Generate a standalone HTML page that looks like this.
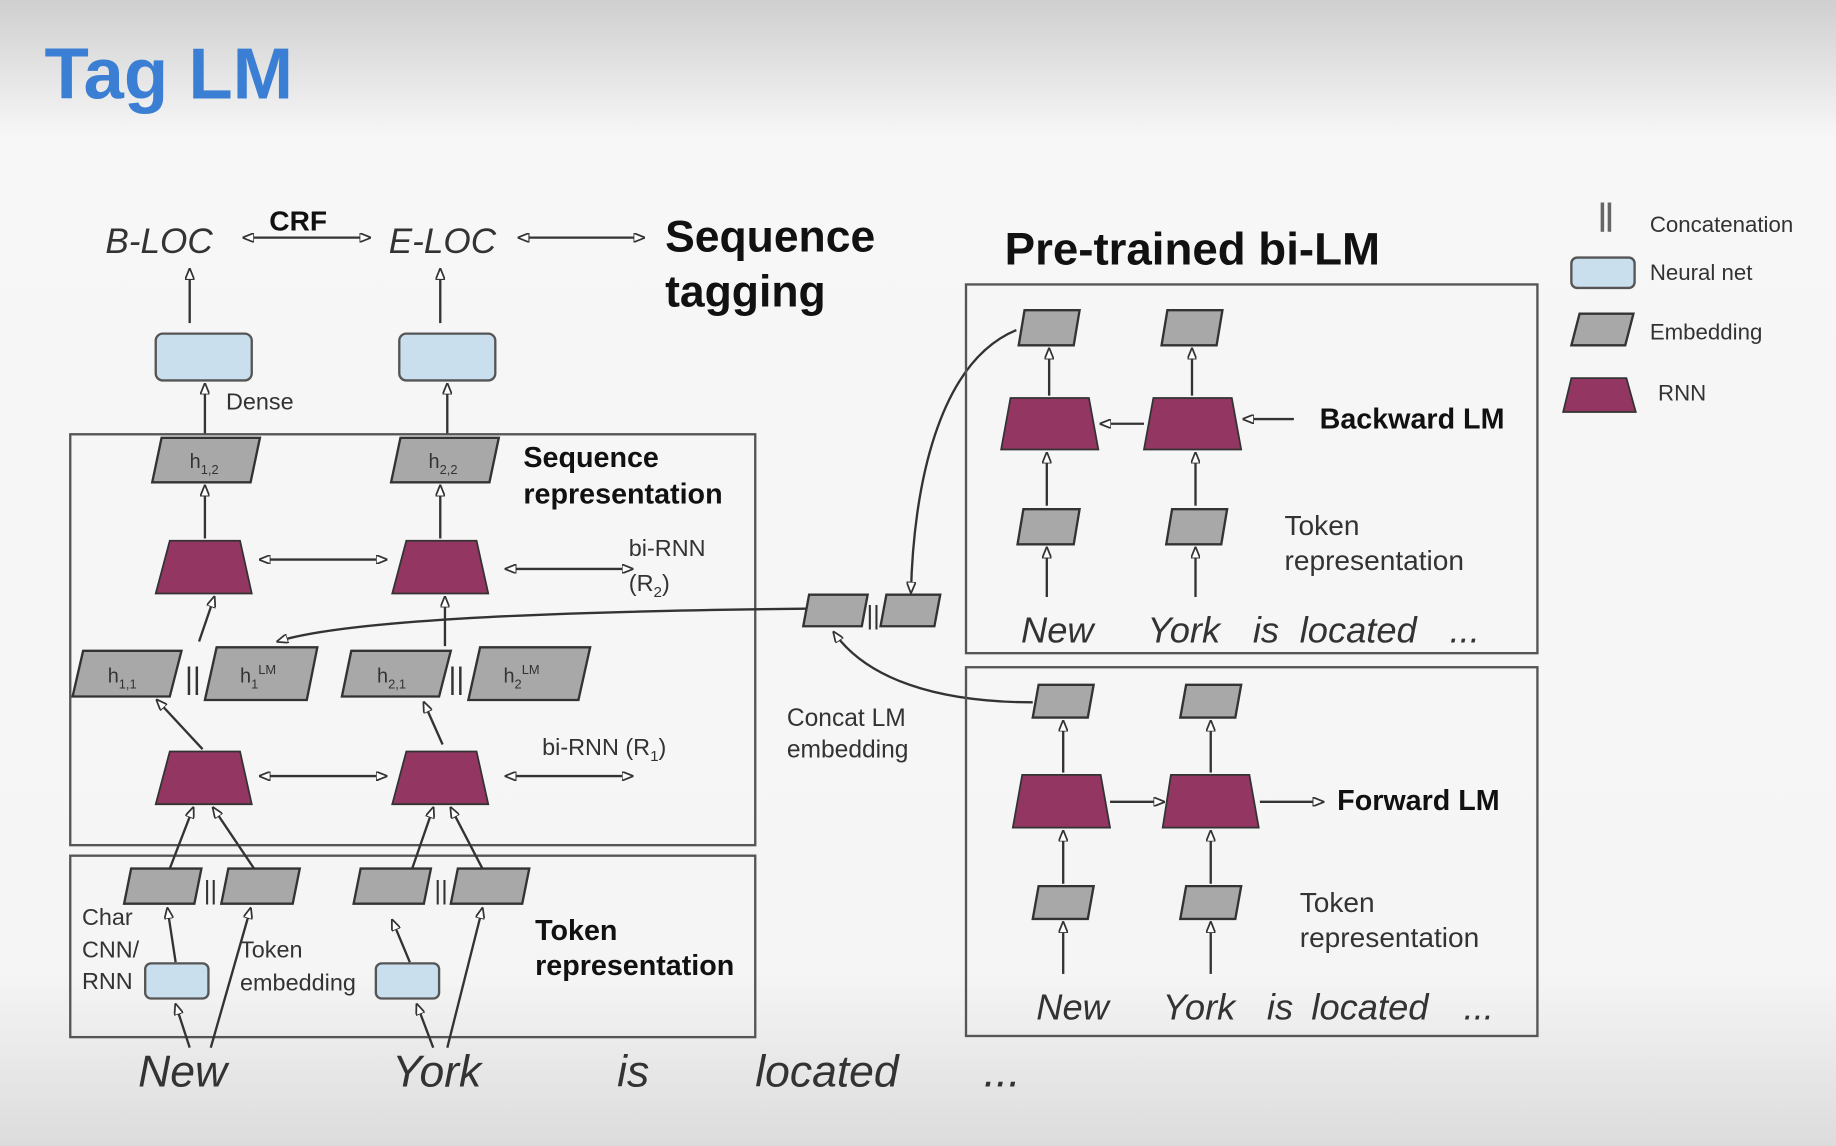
<!DOCTYPE html>
<html><head><meta charset="utf-8"><style>
html,body{margin:0;padding:0;width:1836px;height:1146px;overflow:hidden;background:#fff}
svg{display:block}
text{font-family:"Liberation Sans",sans-serif;fill:#333}
.i{font-style:italic}
.b{font-weight:bold;fill:#111}
.e{fill:#a8a8a8;stroke:#333;stroke-width:2}
.r{fill:#933662;stroke:#333;stroke-width:1.5}
.n{fill:#c9dfee;stroke:#555;stroke-width:2}
.bx{fill:none;stroke:#555;stroke-width:2}
.a{stroke:#333;stroke-width:2;fill:none;marker-end:url(#m)}
.aa{stroke:#333;stroke-width:2;fill:none;marker-end:url(#m);marker-start:url(#ms)}
</style></head><body>
<svg width="1836" height="1146" viewBox="0 0 1568 979" preserveAspectRatio="none">
<defs>
<linearGradient id="bg" x1="0" y1="0" x2="0" y2="1">
<stop offset="0" stop-color="#cfcfcf"/><stop offset="0.12" stop-color="#f7f7f7"/><stop offset="0.85" stop-color="#f5f5f5"/><stop offset="1" stop-color="#dcdcdc"/>
</linearGradient>
<marker id="m" markerWidth="10" markerHeight="8" refX="9" refY="4" orient="auto" markerUnits="userSpaceOnUse"><path d="M0,0 L10,4 L0,8 Z" fill="#fff" stroke="#333" stroke-width="1.5"/></marker>
<marker id="ms" markerWidth="10" markerHeight="8" refX="1" refY="4" orient="auto" markerUnits="userSpaceOnUse"><path d="M10,0 L0,4 L10,8 Z" fill="#fff" stroke="#333" stroke-width="1.5"/></marker>
</defs>
<rect width="1568" height="979" fill="url(#bg)"/>
<text x="38" y="84" style="font-size:62px;font-weight:bold;fill:#3b7fd4">Tag LM</text>

<!-- top labels -->
<text x="90" y="216" class="i" font-size="30">B-LOC</text>
<text x="332" y="216" class="i" font-size="30">E-LOC</text>
<text x="230" y="197" class="b" font-size="24">CRF</text>
<line x1="208" y1="203" x2="316" y2="203" class="aa"/>
<line x1="443" y1="203" x2="550" y2="203" class="aa"/>
<text x="568" y="215" class="b" font-size="38">Sequence</text>
<text x="568" y="262" class="b" font-size="38">tagging</text>
<line x1="162" y1="276" x2="162" y2="230" class="a"/>
<line x1="376" y1="276" x2="376" y2="230" class="a"/>
<rect x="133" y="285" width="82" height="40" rx="6" class="n"/>
<rect x="341" y="285" width="82" height="40" rx="6" class="n"/>
<text x="193" y="350" font-size="20">Dense</text>
<line x1="175" y1="372" x2="175" y2="328" class="a"/>
<line x1="382" y1="372" x2="382" y2="328" class="a"/>

<rect x="60" y="371" width="585" height="351" class="bx"/>
<rect x="60" y="731" width="585" height="155" class="bx"/>

<polygon points="138,374 222,374 214,412 130,412" class="e"/>
<polygon points="342,374 426,374 418,412 334,412" class="e"/>
<text x="162" y="400" font-size="17">h<tspan font-size="11" dy="5">1,2</tspan></text>
<text x="366" y="400" font-size="17">h<tspan font-size="11" dy="5">2,2</tspan></text>
<text x="447" y="399" class="b" font-size="24.5">Sequence</text>
<text x="447" y="430" class="b" font-size="24.5">representation</text>
<line x1="175" y1="460" x2="175" y2="415" class="a"/>
<line x1="376" y1="460" x2="376" y2="415" class="a"/>

<polygon points="145,462 205,462 215,507 133,507" class="r"/>
<polygon points="347,462 407,462 417,507 335,507" class="r"/>
<line x1="222" y1="478" x2="330" y2="478" class="aa"/>
<line x1="432" y1="486" x2="540" y2="486" class="aa"/>
<text x="537" y="475" font-size="20">bi-RNN</text>
<text x="537" y="505" font-size="20">(R<tspan font-size="13" dy="5">2</tspan><tspan dy="-5">)</tspan></text>

<polygon points="71,556 155,556 145,595 62,595" class="e"/>
<polygon points="185,553 271,553 262,598 175,598" class="e"/>
<polygon points="300,556 385,556 375,595 292,595" class="e"/>
<polygon points="410,553 504,553 494,598 400,598" class="e"/>
<text x="92" y="583" font-size="17">h<tspan font-size="11" dy="5">1,1</tspan></text>
<text x="205" y="583" font-size="17">h<tspan font-size="11" dy="5">1</tspan><tspan font-size="11" dy="-12">LM</tspan></text>
<text x="322" y="583" font-size="17">h<tspan font-size="11" dy="5">2,1</tspan></text>
<text x="430" y="583" font-size="17">h<tspan font-size="11" dy="5">2</tspan><tspan font-size="11" dy="-12">LM</tspan></text>
<text x="158" y="588" font-size="26" fill="#333">||</text>
<text x="383" y="588" font-size="26" fill="#333">||</text>
<line x1="170" y1="548" x2="183" y2="510" class="a"/>
<line x1="380" y1="552" x2="380" y2="510" class="a"/>

<polygon points="145,642 205,642 215,687 133,687" class="r"/>
<polygon points="347,642 407,642 417,687 335,687" class="r"/>
<line x1="222" y1="663" x2="330" y2="663" class="aa"/>
<line x1="432" y1="663" x2="540" y2="663" class="aa"/>
<text x="463" y="645" font-size="20">bi-RNN (R<tspan font-size="13" dy="5">1</tspan><tspan dy="-5">)</tspan></text>
<line x1="173" y1="640" x2="134" y2="598" class="a"/>
<line x1="378" y1="636" x2="362" y2="600" class="a"/>

<polygon points="112,742 172,742 166,772 106,772" class="e"/>
<polygon points="195,742 256,742 250,772 189,772" class="e"/>
<polygon points="308,742 368,742 362,772 302,772" class="e"/>
<polygon points="391,742 452,742 446,772 385,772" class="e"/>
<text x="174" y="768" font-size="22">||</text>
<text x="371" y="768" font-size="22">||</text>
<line x1="145" y1="742" x2="165" y2="690" class="a"/>
<line x1="217" y1="742" x2="182" y2="690" class="a"/>
<line x1="352" y1="742" x2="370" y2="690" class="a"/>
<line x1="412" y1="742" x2="385" y2="690" class="a"/>

<rect x="124" y="823" width="54" height="30" rx="5" class="n"/>
<rect x="321" y="823" width="54" height="30" rx="5" class="n"/>
<text x="70" y="790" font-size="20">Char</text>
<text x="70" y="818" font-size="20">CNN/</text>
<text x="70" y="845" font-size="20">RNN</text>
<text x="205" y="818" font-size="20">Token</text>
<text x="205" y="846" font-size="20">embedding</text>
<text x="457" y="803" class="b" font-size="24.5">Token</text>
<text x="457" y="833" class="b" font-size="24.5">representation</text>
<line x1="150" y1="822" x2="143" y2="776" class="a"/>
<line x1="180" y1="895" x2="214" y2="776" class="a"/>
<line x1="162" y1="895" x2="150" y2="858" class="a"/>
<line x1="350" y1="822" x2="335" y2="786" class="a"/>
<line x1="382" y1="895" x2="412" y2="776" class="a"/>
<line x1="370" y1="895" x2="356" y2="858" class="a"/>

<text x="118" y="928" class="i" font-size="38">New</text>
<text x="335" y="928" class="i" font-size="38">York</text>
<text x="527" y="928" class="i" font-size="38">is</text>
<text x="645" y="928" class="i" font-size="38">located</text>
<text x="840" y="928" class="i" font-size="38">...</text>

<!-- concat -->
<polygon points="691,508 741,508 736,535 686,535" class="e"/>
<polygon points="757,508 803,508 798,535 752,535" class="e"/>
<text x="740" y="533" font-size="22">||</text>
<path d="M688,520 C500,522 300,528 237,548" class="a"/>
<path d="M868,282 C800,310 780,420 778,506" class="a"/>
<path d="M882,600 C800,600 740,580 712,540" class="a"/>
<text x="672" y="620" font-size="21">Concat LM</text>
<text x="672" y="647" font-size="21">embedding</text>

<!-- right -->
<text x="858" y="226" class="b" font-size="39">Pre-trained bi-LM</text>
<rect x="825" y="243" width="488" height="315" class="bx"/>
<rect x="825" y="570" width="488" height="315" class="bx"/>

<polygon points="875,265 922,265 917,295 870,295" class="e"/>
<polygon points="997,265 1044,265 1039,295 992,295" class="e"/>
<line x1="896" y1="338" x2="896" y2="298" class="a"/>
<line x1="1018" y1="338" x2="1018" y2="298" class="a"/>
<polygon points="863,340 930,340 938,384 855,384" class="r"/>
<polygon points="985,340 1052,340 1060,384 977,384" class="r"/>
<line x1="977" y1="362" x2="940" y2="362" class="a"/>
<line x1="1105" y1="358" x2="1062" y2="358" class="a"/>
<text x="1127" y="366" class="b" font-size="24.5">Backward LM</text>
<line x1="894" y1="432" x2="894" y2="387" class="a"/>
<line x1="1021" y1="432" x2="1021" y2="387" class="a"/>
<polygon points="874,435 922,435 917,465 869,465" class="e"/>
<polygon points="1001,435 1048,435 1043,465 996,465" class="e"/>
<line x1="894" y1="510" x2="894" y2="468" class="a"/>
<line x1="1021" y1="510" x2="1021" y2="468" class="a"/>
<text x="1097" y="457" font-size="24">Token</text>
<text x="1097" y="487" font-size="24">representation</text>
<text x="872" y="549" class="i" font-size="31">New</text>
<text x="980" y="549" class="i" font-size="31">York</text>
<text x="1070" y="549" class="i" font-size="31">is</text>
<text x="1110" y="549" class="i" font-size="31">located</text>
<text x="1238" y="549" class="i" font-size="31">...</text>

<polygon points="887,585 934,585 929,613 882,613" class="e"/>
<polygon points="1013,585 1060,585 1055,613 1008,613" class="e"/>
<line x1="908" y1="660" x2="908" y2="616" class="a"/>
<line x1="1034" y1="660" x2="1034" y2="616" class="a"/>
<polygon points="873,662 940,662 948,707 865,707" class="r"/>
<polygon points="1000,662 1067,662 1075,707 993,707" class="r"/>
<line x1="948" y1="685" x2="994" y2="685" class="a"/>
<line x1="1076" y1="685" x2="1130" y2="685" class="a"/>
<text x="1142" y="692" class="b" font-size="24.5">Forward LM</text>
<line x1="908" y1="755" x2="908" y2="710" class="a"/>
<line x1="1034" y1="755" x2="1034" y2="710" class="a"/>
<polygon points="887,757 934,757 929,785 882,785" class="e"/>
<polygon points="1013,757 1060,757 1055,785 1008,785" class="e"/>
<line x1="908" y1="832" x2="908" y2="788" class="a"/>
<line x1="1034" y1="832" x2="1034" y2="788" class="a"/>
<text x="1110" y="779" font-size="24">Token</text>
<text x="1110" y="809" font-size="24">representation</text>
<text x="885" y="871" class="i" font-size="31">New</text>
<text x="993" y="871" class="i" font-size="31">York</text>
<text x="1082" y="871" class="i" font-size="31">is</text>
<text x="1120" y="871" class="i" font-size="31">located</text>
<text x="1250" y="871" class="i" font-size="31">...</text>

<!-- legend -->
<rect x="1367" y="173" width="3" height="25" fill="#666"/>
<rect x="1373" y="173" width="3" height="25" fill="#666"/>
<text x="1409" y="198" font-size="19">Concatenation</text>
<rect x="1342" y="220" width="54" height="26" rx="5" class="n"/>
<text x="1409" y="239" font-size="19">Neural net</text>
<polygon points="1349,268 1395,268 1388,295 1342,295" class="e"/>
<text x="1409" y="290" font-size="19">Embedding</text>
<polygon points="1342,323 1389,323 1397,352 1335,352" class="r"/>
<text x="1416" y="342" font-size="19">RNN</text>
</svg>
</body></html>
